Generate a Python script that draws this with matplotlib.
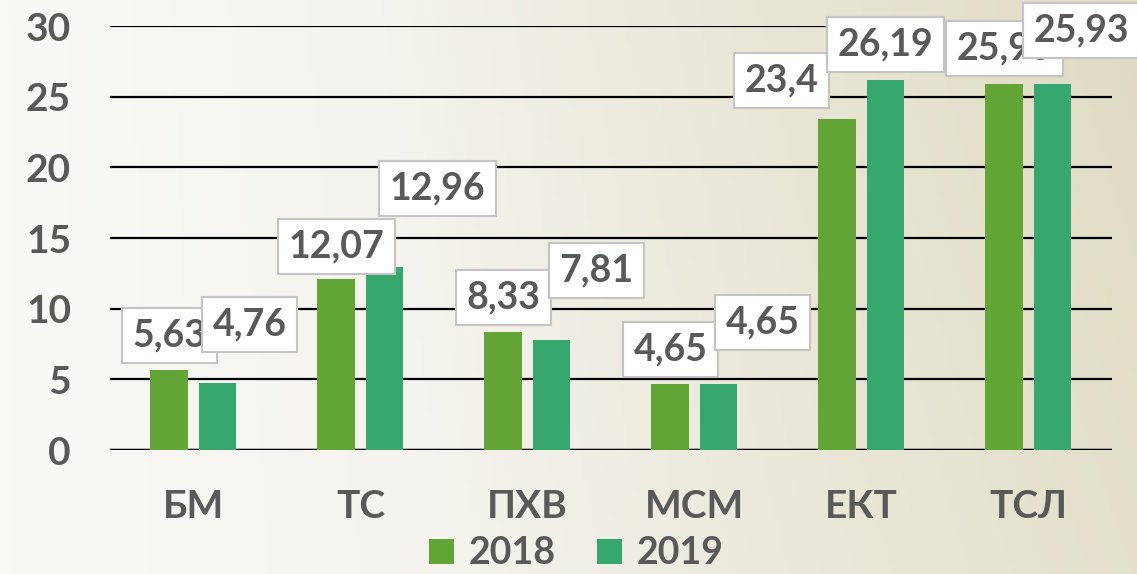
"""Bar chart 2018 vs 2019"""

import numpy as np
import matplotlib
matplotlib.use("Agg")
import matplotlib.pyplot as plt
from matplotlib.colors import LinearSegmentedColormap

categories = ["БМ", "ТС", "ПХВ", "МСМ", "ЕКТ", "ТСЛ"]
values_2018 = [5.63, 12.07, 8.33, 4.65, 23.4, 25.93]
values_2019 = [4.76, 12.96, 7.81, 4.65, 26.19, 25.93]
labels_2018 = ["5,63", "12,07", "8,33", "4,65", "23,4", "25,93"]
labels_2019 = ["4,76", "12,96", "7,81", "4,65", "26,19", "25,93"]
y_ticks = [0, 5, 10, 15, 20, 25, 30]

# сдвиги подписей (в пикселях) от верха столбца
offs_2018 = [(0, 35), (0, 33), (0, 35), (0, 35), (-56, 39), (0, 35)]
offs_2019 = [(32, 58), (53, 78), (45, 69), (44, 62), (0, 35), (29, 53)]

C18 = "#63a437"
C19 = "#36a86f"
GRAY = "#595959"


def main() -> None:
    """main function"""
    plt.rcParams["font.family"] = ["Lato", "DejaVu Sans"]
    plt.rcParams["font.weight"] = "bold"
    fig = plt.figure(figsize=(11.37, 5.74), dpi=100)

    # фон с градиентом
    bg = fig.add_axes([0, 0, 1, 1], zorder=-10)
    cmap = LinearSegmentedColormap.from_list(
        "bg", ["#f9f9f6", "#f4f3ed", "#e9e6d6", "#dfdbc3"])
    gx = np.linspace(0, 1, 256)
    gy = np.linspace(0, 1, 128)
    grad = gx[None, :] * 0.85 + (1 - gy[:, None]) * 0.15 * gx[None, :]
    bg.imshow(grad, cmap=cmap, aspect="auto", extent=[0, 1, 0, 1],
              vmin=0, vmax=1)
    bg.axis("off")

    ax = fig.add_axes([0.0967, 0.216, 0.8813, 0.7387])
    ax.set_facecolor("none")
    x = np.arange(len(categories))
    w = 0.227
    d = 0.144
    ax.bar(x - d, values_2018, w, color=C18, label="2018", zorder=3)
    ax.bar(x + d, values_2019, w, color=C19, label="2019", zorder=3)

    ax.set_xlim(-0.5, len(categories) - 0.5)
    ax.set_ylim(0, 30)
    ax.set_yticks(y_ticks)
    ax.set_xticks(x)
    ax.set_xticklabels(categories)
    ax.tick_params(axis="both", length=0, labelsize=28, labelcolor=GRAY)
    ax.tick_params(axis="y", pad=28)
    ax.tick_params(axis="x", pad=28)
    for s in ax.spines.values():
        s.set_visible(False)
    ax.yaxis.grid(True, color="black", linewidth=1.6)
    ax.axhline(0, color="black", linewidth=2.4, zorder=2)
    ax.set_axisbelow(True)

    box = dict(boxstyle="square,pad=0.28", fc="white", ec="#c4c4c4", lw=1.5)
    for i in range(len(categories)):
        ax.annotate(labels_2018[i], xy=(x[i] - d, values_2018[i]),
                    xytext=offs_2018[i], textcoords="offset pixels",
                    ha="center", va="center", fontsize=27, color=GRAY,
                    fontweight="bold", bbox=box, zorder=5)
        ax.annotate(labels_2019[i], xy=(x[i] + d, values_2019[i]),
                    xytext=offs_2019[i], textcoords="offset pixels",
                    ha="center", va="center", fontsize=27, color=GRAY,
                    fontweight="bold", bbox=box, zorder=6)

    h, l = ax.get_legend_handles_labels()
    leg = fig.legend(h, l, loc="center", bbox_to_anchor=(0.507, 0.036),
                     ncol=2, frameon=False, fontsize=27, handlelength=0.65,
                     handleheight=0.65, handletextpad=0.4, columnspacing=1.1,
                     borderpad=0)
    for t in leg.get_texts():
        t.set_color(GRAY)

    fig.savefig("out.png", dpi=100)


if __name__ == "__main__":
    main()
